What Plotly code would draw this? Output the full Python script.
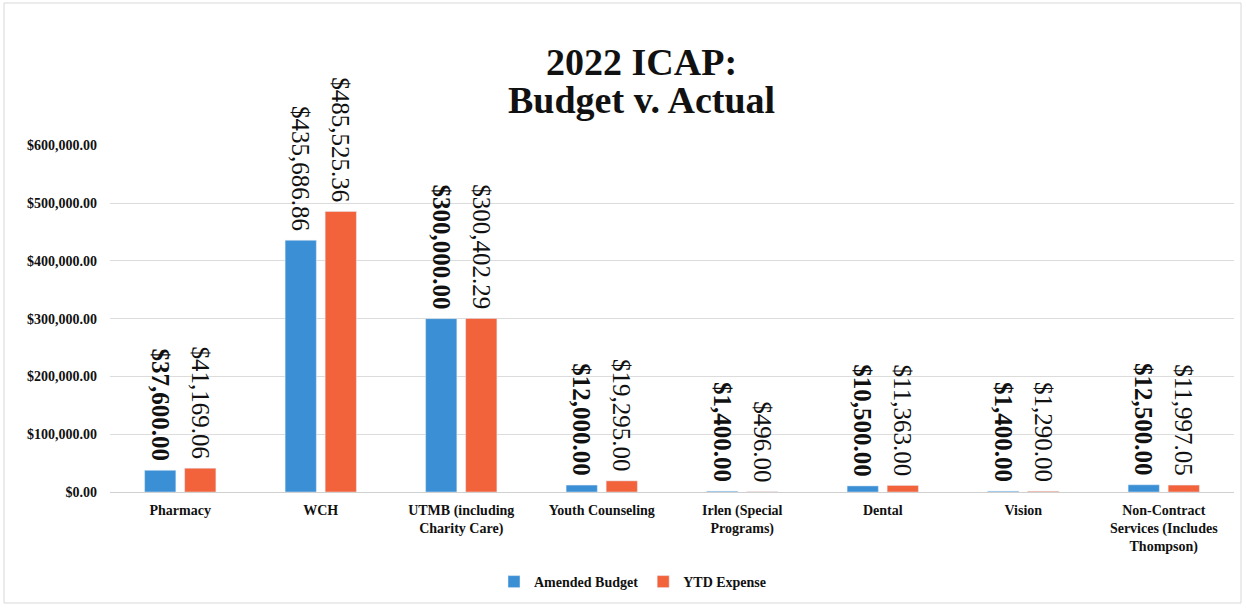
import plotly.graph_objects as go

categories = ["Pharmacy", "WCH", "UTMB (including<br>Charity Care)", "Youth Counseling",
              "Irlen (Special<br>Programs)", "Dental", "Vision",
              "Non-Contract<br>Services (Includes<br>Thompson)"]
amended_budget = [37600.00, 435686.86, 300000.00, 12000.00, 1400.00, 10500.00, 1400.00, 12500.00]
ytd_expense = [41169.06, 485525.36, 300402.29, 19295.00, 496.00, 11363.00, 1290.00, 11997.05]
y_ticks = [0, 100000, 200000, 300000, 400000, 500000, 600000]
y_tick_labels = ["${:,.2f}".format(v) for v in y_ticks]

W, H = 1246, 609
L, R, T, B = 110, 12, 145, 117
PW, PH = W - L - R, H - T - B

def px(x):
    return (x - L) / PW

def py(y):
    return (H - B - y) / PH

SERIF = "Liberation Serif"
BLUE = "#3b8fd4"
ORANGE = "#f2623b"
INK = "#111111"

def labels(vals, bold_mask):
    out = []
    for v, b in zip(vals, bold_mask):
        s = "${:,.2f}\u00a0".format(v)
        out.append("<b>" + s + "</b>" if b else s)
    return out

# label styling seen in the reference: budget labels bold except WCH, expense labels regular
budget_bold = [i != 1 for i in range(len(categories))]
expense_bold = [False] * len(categories)

fig = go.Figure()
for name, vals, col, mask in [("Amended Budget", amended_budget, BLUE, budget_bold),
                              ("YTD Expense", ytd_expense, ORANGE, expense_bold)]:
    fig.add_trace(go.Bar(
        x=categories, y=vals, name=name, marker_color=col,
        text=labels(vals, mask), textposition="outside", textangle=90,
        textfont=dict(family=SERIF, size=25, color=INK),
        outsidetextfont=dict(family=SERIF, size=25, color=INK),
        constraintext="none", cliponaxis=False,
    ))

fig.update_layout(
    width=W, height=H,
    margin=dict(l=L, r=R, t=T, b=B, autoexpand=False),
    paper_bgcolor="white", plot_bgcolor="white",
    barmode="group", bargap=0.43, bargroupgap=0.22,
    showlegend=True,
    legend=dict(orientation="h", x=px(633), y=py(582), xanchor="center", yanchor="middle",
                font=dict(family=SERIF, size=14, color=INK, weight="bold"), traceorder="normal",
                itemwidth=30),
    xaxis=dict(tickfont=dict(family=SERIF, size=14, color=INK, weight="bold"), showgrid=False,
               showline=False, ticks="", ticklabelstandoff=8),
    yaxis=dict(range=[0, 600500], tickvals=y_ticks, ticktext=y_tick_labels,
               tickfont=dict(family=SERIF, size=14, color=INK, weight="bold"),
               gridcolor="#dcdcdc", gridwidth=1, zeroline=True, zerolinecolor="#d0d0d0",
               zerolinewidth=1, showline=False, ticklabelstandoff=12),
)

fig.add_annotation(text="<b>2022 ICAP:</b>", xref="paper", yref="paper", x=px(641), y=py(62),
                   xanchor="center", yanchor="middle", showarrow=False,
                   font=dict(family=SERIF, size=38, color=INK))
fig.add_annotation(text="<b>Budget v. Actual</b>", xref="paper", yref="paper", x=px(641), y=py(100),
                   xanchor="center", yanchor="middle", showarrow=False,
                   font=dict(family=SERIF, size=38, color=INK))

fig.add_shape(type="rect", xref="paper", yref="paper", x0=px(4), x1=px(1241), y0=py(603), y1=py(3),
              line=dict(color="#d8d8d8", width=1), layer="below")

fig.write_html("out.html")
